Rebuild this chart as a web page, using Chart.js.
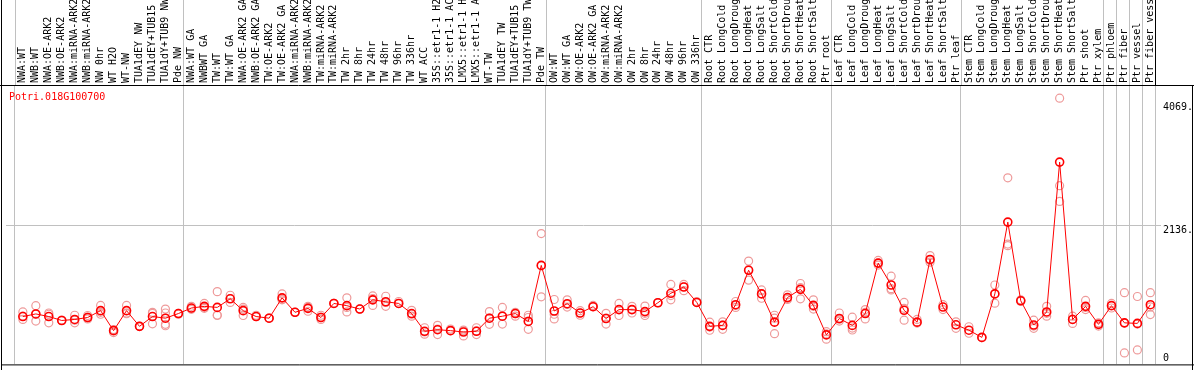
<!DOCTYPE html>
<html>
<head>
<meta charset="utf-8">
<script src="https://cdn.jsdelivr.net/npm/chart.js@4/dist/chart.umd.min.js"></script>
<style>
html,body{margin:0;padding:0;background:#fff;}
#wrap{width:1194px;height:370px;position:relative;}
</style>
</head>
<body>
<div id="wrap"><canvas id="c" width="1194" height="370"></canvas></div>
<script>
const geneLabel = 'Potri.018G100700';

const categories = [
  "NWA:WT","NWB:WT","NWA:OE-ARK2","NWB:OE-ARK2","NWA:miRNA-ARK2","NWB:miRNA-ARK2","NW 0hr","WT H2O","WT-NW","TUA1dEY NW","TUA1dEY+TUB15 NW","TUA1dY+TUB9 NW","Pde NW",
  "NWA:WT GA","NWBWT GA","TW:WT","TW:WT GA","NWA:OE-ARK2 GA","NWB:OE-ARK2 GA","TW:OE-ARK2","TW:OE-ARK2 GA","NWA:miRNA-ARK2","NWB:miRNA-ARK2","TW:miRNA-ARK2","TW:miRNA-ARK2","TW 2hr","TW 8hr","TW 24hr","TW 48hr","TW 96hr","TW 336hr","WT ACC","35S::etr1-1 H2O","35S::etr1-1 ACC","LMX5::etr1-1 H2O","LMX5::etr1-1 ACC","WT-TW","TUA1dEY TW","TUA1dEY+TUB15 TW","TUA1dY+TUB9 TW","Pde TW",
  "OW:WT","OW:WT GA","OW:OE-ARK2","OW:OE-ARK2 GA","OW:miRNA-ARK2","OW:miRNA-ARK2","OW 2hr","OW 8hr","OW 24hr","OW 48hr","OW 96hr","OW 336hr",
  "Root CTR","Root LongCold","Root LongDrought","Root LongHeat","Root LongSalt","Root ShortCold","Root ShortDrought","Root ShortHeat","Root ShortSalt","Ptr root",
  "Leaf CTR","Leaf LongCold","Leaf LongDrought","Leaf LongHeat","Leaf LongSalt","Leaf ShortCold","Leaf ShortDrought","Leaf ShortHeat","Leaf ShortSalt","Ptr leaf",
  "Stem CTR","Stem LongCold","Stem LongDrought","Stem LongHeat","Stem LongSalt","Stem ShortCold","Stem ShortDrought","Stem ShortHeat","Stem ShortSalt","Ptr shoot","Ptr xylem",
  "Ptr phloem","Ptr fiber","Ptr vessel","Ptr fiber vessel"
];

const meanValues = [
  707,748,707,645,661,692,800,485,800,553,
  707,681,754,841,867,851,986,800,707,681,
  1001,774,836,692,913,878,825,970,940,913,
  754,475,500,485,464,475,681,712,754,630,
  1512,794,909,763,862,676,816,816,785,924,
  1073,1172,929,553,568,893,1435,1063,619,1006,
  1135,882,418,676,568,754,1548,1203,805,619,
  1605,856,577,492,379,1063,2193,955,573,779,
  3137,661,867,584,878,608,599,893
];

const replicateValues = [
  [779,661,712],[878,635,743],[763,608,743],[645,650],[727,608,650],[723,670,697],[882,774,743],[495,454,503],[882,763,751],[553,553],
  [774,593,758],[825,763,584,562],[758,743],[867,820,836],[913,851,836],[1099,723,731],[1042,929,991],[825,723,851],[707,727],[681,681],
  [1063,970,975],[774,774],[867,790,851],[727,661,697],[913,913],[1001,779,851],[825,825],[1032,882,991],[1026,929,867],[913,944],
  [805,712,743],[531,429,464],[568,423,511],[485,511],[402,495,480],[531,423,480],[785,584,681],[851,588,712],[754,712,774],[727,692,506,635],
  [2012,1017,1507],[975,670,743],[970,856,898],[763,800,727],[862,882],[758,588,681],[913,723],[816,763,867],[871,723,758],[924,924],
  [1212,970,1037],[1212,1114,1176],[929,944],[491,542,619],[624,506,573],[944,851,882],[1579,1280,1444],[1125,995,1068],[727,438,681],[1048,975,991],
  [1227,986,1161],[970,825,867],[469,351,433],[763,635,666],[697,495,526],[816,670,774],[1590,1517,1548],[1342,1125,1145],[929,650,836],[661,604],
  [1667,1563,1594],[893,816],[624,522],[546,444],[376,376],[1203,918,1068],[2890,1847,1822],[970,949],[650,522,557],[867,712,758],
  [4143,2766,2518],[712,599,666],[960,816,851],[608,557],[913,841],[1083,135,604],[1022,181,588],[1083,738,858]
];

const yTickValues = [4069, 2136, 0];
const yTickLabels = ['4069.', '2136.', '0'];
const yGridValues = [2136];
const groupBoundaries = [0,13,41,53,63,73,84,85,86,87,88];

// style / layout constants
const POINT_OFFSET = 0.64;
const FONT = '10px "DejaVu Sans Mono", "Liberation Mono", monospace';
const GRID = '#c0c0c0';

const meanData = meanValues.map((v,i)=>({x:i+POINT_OFFSET, y:v}));
const repData = [];
replicateValues.forEach((arr,i)=>arr.forEach(v=>repData.push({x:i+POINT_OFFSET, y:v})));

const decor = {
  id:'decor',
  beforeDatasetsDraw(chart){
    const {ctx, chartArea:a, scales:{x}} = chart;
    ctx.save();
    ctx.strokeStyle = GRID; ctx.lineWidth = 1;
    groupBoundaries.forEach(b=>{
      const px = Math.round(x.getPixelForValue(b)) + 0.5;
      ctx.beginPath(); ctx.moveTo(px,0); ctx.lineTo(px,a.top); ctx.stroke();
    });
    ctx.restore();
  },
  afterDraw(chart){
    const {ctx, chartArea:a, scales:{x,y}} = chart;
    const W = chart.width, H = chart.height;
    ctx.save();
    // category labels
    ctx.fillStyle = '#000';
    ctx.font = FONT;
    categories.forEach((c,i)=>{
      const px = x.getPixelForValue(i+POINT_OFFSET);
      ctx.save();
      ctx.translate(px, a.top-2);
      ctx.rotate(-Math.PI/2);
      ctx.textAlign='left'; ctx.textBaseline='middle';
      ctx.fillText(c,0,0);
      ctx.restore();
    });
    // y tick labels
    ctx.textAlign='left'; ctx.textBaseline='top';
    yTickValues.forEach((v,k)=>{
      let py = y.getPixelForValue(v);
      py = Math.min(py, a.bottom-11);
      ctx.fillText(yTickLabels[k], a.right+2, py);
    });
    // gene label
    ctx.fillStyle = '#ff0000';
    ctx.textBaseline='middle';
    ctx.fillText(geneLabel, 9, a.top+12);
    // frame
    ctx.strokeStyle='#000'; ctx.lineWidth=1;
    ctx.beginPath();
    ctx.moveTo(1.5,0); ctx.lineTo(1.5,H);
    ctx.moveTo(0,a.top+0.5); ctx.lineTo(W,a.top+0.5);
    ctx.moveTo(1,a.bottom+0.5); ctx.lineTo(W,a.bottom+0.5);
    ctx.moveTo(W-1.5,a.top); ctx.lineTo(W-1.5,H);
    const last = Math.round(x.getPixelForValue(groupBoundaries[groupBoundaries.length-1]))+0.5;
    ctx.moveTo(last,0); ctx.lineTo(last,a.top);
    ctx.stroke();
    ctx.restore();
  }
};

new Chart(document.getElementById('c'), {
  type:'scatter',
  data:{
    datasets:[
      {
        label:'mean', data:meanData, showLine:true, order:0,
        borderColor:'#ff0000', borderWidth:1,
        pointRadius:4, pointBorderWidth:1.6, pointBorderColor:'#ff0000',
        pointBackgroundColor:'rgba(0,0,0,0)', tension:0
      },
      {
        label:'replicates', data:repData, showLine:false, order:1,
        pointRadius:4, pointBorderWidth:1.2, pointBorderColor:'#ee9a9a',
        pointBackgroundColor:'rgba(0,0,0,0)'
      }
    ]
  },
  options:{
    responsive:false, animation:false, devicePixelRatio:1,
    layout:{padding:{left:2, right:33, top:85, bottom:1}},
    plugins:{legend:{display:false}, tooltip:{enabled:false}},
    scales:{
      x:{
        type:'linear', min:-9/13, max:88+6/13,
        ticks:{display:false}, border:{display:false},
        grid:{color:GRID, lineWidth:1, drawTicks:false},
        afterBuildTicks:(s)=>{ s.ticks = groupBoundaries.map(v=>({value:v})); }
      },
      y:{
        type:'linear', min:-46, max:4350,
        ticks:{display:false}, border:{display:false},
        grid:{color:GRID, lineWidth:1, drawTicks:false},
        afterBuildTicks:(s)=>{ s.ticks = yGridValues.map(v=>({value:v})); }
      }
    }
  },
  plugins:[decor]
});
</script>
</body>
</html>
